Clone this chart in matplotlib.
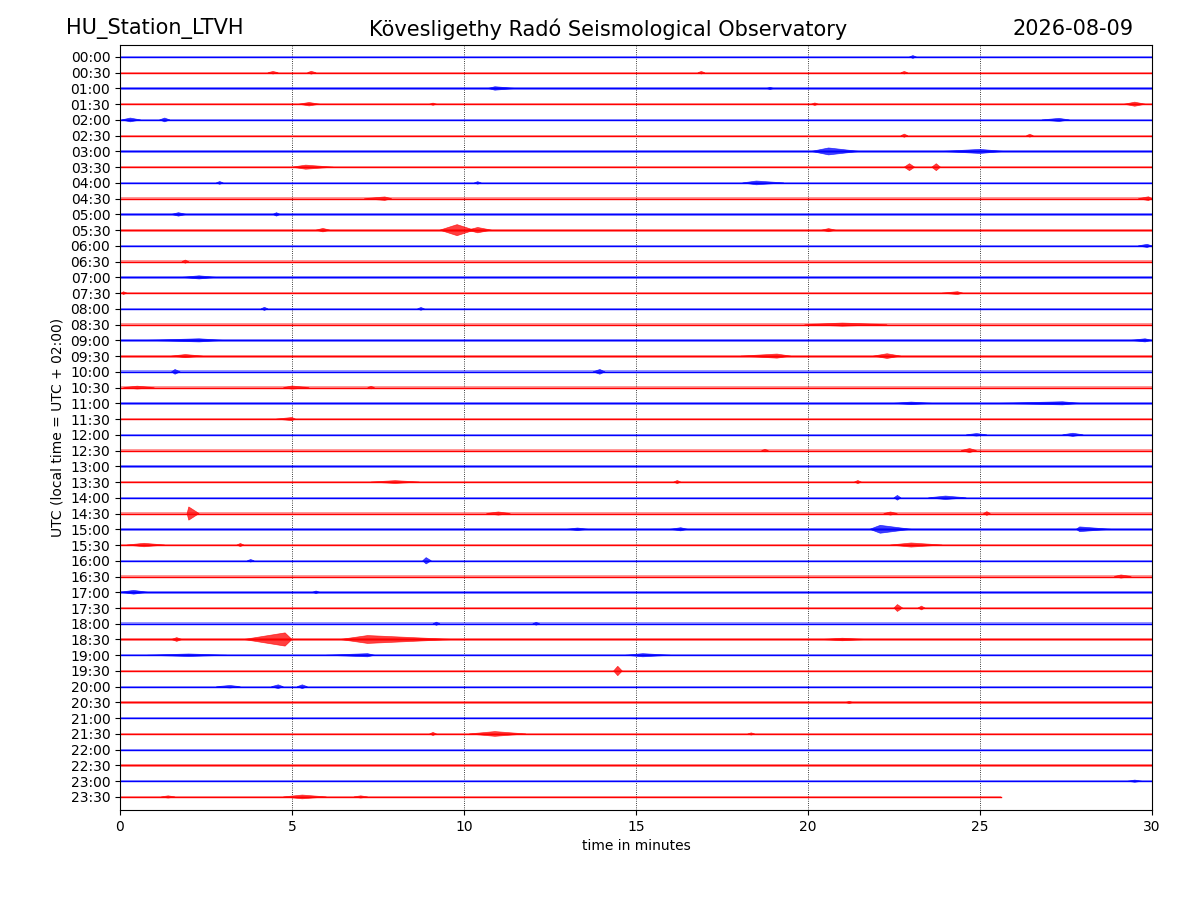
import matplotlib
matplotlib.use("Agg")
import matplotlib.pyplot as plt

# ---- data ----
row_labels = ["%02d:%02d" % (h, m) for h in range(24) for m in (0, 30)]
row_colors = ["blue", "red"] * 24
row_end = [30.0] * 47 + [25.6]           # minutes of data in each row
row_noise = [0.05, 0.06, 0.07, 0.07, 0.05, 0.07, 0.08, 0.08, 0.08, 0.09,
             0.08, 0.10, 0.08, 0.09, 0.09, 0.08, 0.08, 0.08, 0.09, 0.09,
             0.09, 0.10, 0.09, 0.08, 0.08, 0.08, 0.08, 0.08, 0.08, 0.08,
             0.09, 0.09, 0.08, 0.08, 0.09, 0.08, 0.08, 0.10, 0.08, 0.07,
             0.07, 0.08, 0.06, 0.06, 0.06, 0.07, 0.06, 0.05]

# bursts: row index, start, peak, end (minutes), half amplitude (row units)
ev_row = [0, 1, 1, 1, 1, 2, 2, 3, 3, 3, 3, 4, 4, 4, 5, 5,
          6, 6, 7, 7, 7, 8, 8, 8, 9, 9, 10, 10, 11, 11, 11, 11,
          12, 13, 14, 15, 15, 16, 16, 17, 18, 18, 19, 19, 19,
          20, 20, 21, 21, 21, 22, 22, 23, 24, 24, 25, 25,
          27, 27, 27, 28, 28, 29, 29, 29, 29,
          30, 30, 30, 30, 31, 31, 31, 32, 32, 33, 34, 34, 35, 35,
          36, 36, 37, 37, 37, 37, 38, 38, 38, 39, 40, 40, 40, 41,
          43, 43, 43, 46, 47, 47, 47]
ev_start = [22.95, 4.3, 5.45, 16.8, 22.7, 10.7, 18.8, 5.2, 9.0, 20.1, 29.2, 0.05, 1.15, 26.8, 22.7, 26.35,
            20.1, 23.9, 5.0, 22.8, 23.6, 2.8, 10.3, 18.1, 7.1, 29.6, 1.5, 4.45, 9.3, 10.1, 5.7, 20.4,
            29.6, 1.8, 1.8, 0.05, 23.9, 4.1, 8.65, 19.9, 0.8, 29.4, 1.5, 18.05, 21.9,
            1.5, 13.75, 0.1, 4.75, 7.2, 22.5, 25.6, 4.55, 24.6, 27.4, 18.65, 24.45,
            7.3, 16.1, 21.35, 22.5, 23.5, 1.95, 10.65, 22.2, 25.1,
            13.0, 16.0, 21.8, 27.8, 0.2, 3.4, 22.4, 3.7, 8.8, 28.9, 0.0, 5.6, 22.5, 23.2,
            9.1, 12.0, 1.5, 3.6, 6.4, 20.4, 0.8, 6.0, 14.7, 14.35, 2.8, 4.4, 5.15, 21.1,
            9.0, 10.15, 18.25, 29.3, 1.2, 4.75, 6.8]
ev_peak = [23.05, 4.45, 5.56, 16.9, 22.8, 10.9, 18.9, 5.5, 9.1, 20.2, 29.5, 0.3, 1.3, 27.3, 22.8, 26.45,
           20.6, 25.0, 5.4, 22.95, 23.73, 2.9, 10.4, 18.5, 7.7, 29.9, 1.7, 4.55, 9.8, 10.4, 5.9, 20.6,
           29.86, 1.9, 2.3, 0.1, 24.35, 4.2, 8.75, 21.0, 2.3, 29.8, 1.9, 19.1, 22.3,
           1.6, 13.95, 0.5, 5.0, 7.3, 23.0, 27.4, 5.0, 24.9, 27.7, 18.75, 24.7,
           8.0, 16.2, 21.45, 22.6, 24.0, 2.0, 11.0, 22.4, 25.2,
           13.3, 16.3, 22.1, 27.9, 0.7, 3.5, 23.0, 3.8, 8.9, 29.1, 0.4, 5.7, 22.6, 23.3,
           9.2, 12.1, 1.65, 4.8, 7.2, 21.0, 2.0, 7.2, 15.2, 14.47, 3.2, 4.6, 5.3, 21.2,
           9.1, 10.9, 18.35, 29.5, 1.4, 5.3, 7.0]
ev_end = [23.15, 4.6, 5.7, 17.0, 22.9, 11.5, 19.0, 5.8, 9.2, 20.3, 29.8, 0.6, 1.45, 27.6, 22.9, 26.55,
          21.5, 25.7, 6.2, 23.1, 23.85, 3.0, 10.5, 19.3, 7.9, 30.0, 1.93, 4.65, 10.3, 10.8, 6.1, 20.8,
          30.0, 2.0, 2.8, 0.2, 24.5, 4.3, 8.85, 22.3, 3.0, 30.0, 2.4, 19.5, 22.7,
          1.75, 14.1, 1.0, 5.5, 7.4, 23.6, 27.9, 5.1, 25.2, 28.0, 18.85, 24.9,
          8.7, 16.3, 21.55, 22.7, 24.6, 2.3, 11.35, 22.6, 25.3,
          13.6, 16.5, 23.0, 28.8, 1.3, 3.6, 23.9, 3.9, 9.05, 29.4, 0.8, 5.8, 22.75, 23.4,
          9.3, 12.2, 1.8, 5.0, 9.7, 21.7, 3.1, 7.4, 16.0, 14.6, 3.5, 4.75, 5.45, 21.3,
          9.2, 11.8, 18.45, 29.7, 1.6, 6.0, 7.2]
ev_amp = [0.09, 0.08, 0.09, 0.08, 0.08, 0.11, 0.07, 0.11, 0.07, 0.08, 0.13, 0.12, 0.12, 0.10, 0.10, 0.09,
          0.22, 0.13, 0.13, 0.22, 0.22, 0.09, 0.08, 0.12, 0.11, 0.12, 0.11, 0.11, 0.35, 0.17, 0.11, 0.10,
          0.10, 0.10, 0.10, 0.09, 0.09, 0.10, 0.09, 0.10, 0.10, 0.10, 0.10, 0.13, 0.15,
          0.15, 0.15, 0.09, 0.10, 0.08, 0.08, 0.10, 0.10, 0.08, 0.10, 0.08, 0.13,
          0.09, 0.10, 0.10, 0.15, 0.11, 0.42, 0.10, 0.10, 0.12,
          0.08, 0.10, 0.25, 0.15, 0.11, 0.10, 0.13, 0.08, 0.20, 0.10, 0.12, 0.08, 0.22, 0.12,
          0.10, 0.09, 0.12, 0.42, 0.25, 0.08, 0.08, 0.10, 0.10, 0.30, 0.08, 0.12, 0.12, 0.07,
          0.10, 0.15, 0.07, 0.07, 0.07, 0.12, 0.07]

station = "HU_Station_LTVH"
observatory = "Kövesligethy Radó Seismological Observatory"
date_label = "2026-08-09"
x_ticks = [0, 5, 10, 15, 20, 25, 30]

# ---- drawing ----
fig = plt.figure(figsize=(12, 9), dpi=100)
ax = fig.add_axes([0.1, 0.1, 0.86, 0.85])

for i, (c, end, nz) in enumerate(zip(row_colors, row_end, row_noise)):
    ax.fill_between([0, end], [i - nz, i - nz], [i + nz, i + nz],
                    color=c, alpha=0.4, linewidth=0)
    ax.plot([0, end], [i, i], color=c, linewidth=1.0)

for r, s, p, e, a in zip(ev_row, ev_start, ev_peak, ev_end, ev_amp):
    c = row_colors[r]
    ax.fill([s, p, e, p], [r, r - a, r, r + a], color=c, alpha=0.75, linewidth=0.5,
            edgecolor=c)

ax.set_xlim(0, 30)
ax.set_ylim(47.83, -0.76)
ax.set_xticks(x_ticks)
ax.set_yticks(range(len(row_labels)))
ax.set_yticklabels(row_labels)
ax.xaxis.grid(True, linestyle=":", color="black", linewidth=0.6)
ax.set_axisbelow(True)
ax.set_xlabel("time in minutes")
ax.set_ylabel("UTC (local time = UTC + 02:00)")

fig.text(0.055, 0.968, station, fontsize=15, ha="left", va="center")
fig.text(0.507, 0.968, observatory, fontsize=15, ha="center", va="center")
fig.text(0.945, 0.968, date_label, fontsize=15, ha="right", va="center")

fig.savefig("out.png", dpi=100)
